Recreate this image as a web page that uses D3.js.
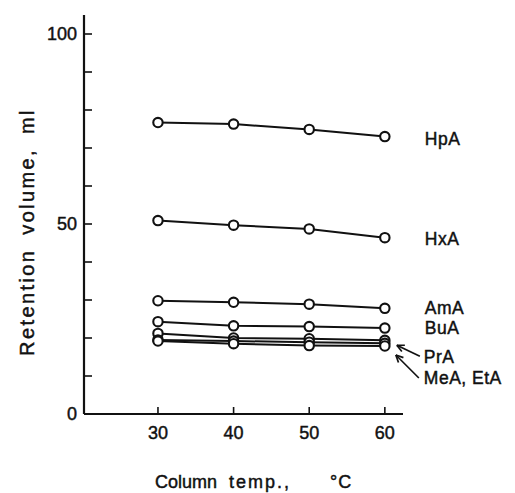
<!DOCTYPE html>
<html>
<head>
<meta charset="utf-8">
<script src="https://cdn.jsdelivr.net/npm/d3@7"></script>
<style>
  html, body { margin: 0; padding: 0; background: #fff; }
  svg { display: block; }
  text { font-family: "Liberation Sans", Arial, sans-serif; fill: #111; stroke: #111; stroke-width: 0.45px; }
</style>
</head>
<body>
<svg id="chart" width="515" height="493"></svg>
<script>
// ---- data ----
const temps = [30, 40, 50, 60];
const HpA = [76.7, 76.3, 74.9, 73.0];
const HxA = [50.9, 49.7, 48.7, 46.4];
const AmA = [29.8, 29.4, 28.9, 27.8];
const BuA = [24.3, 23.2, 23.0, 22.6];
const PrA = [21.2, 20.0, 19.8, 19.4];
const EtA = [19.5, 19.2, 18.9, 18.6];
const MeA = [19.2, 18.5, 18.0, 17.9];
const xTicks = [30, 40, 50, 60];
const yMajorTicks = [0, 50, 100];
const yMinorTicks = [10, 20, 30, 40, 60, 70, 80, 90];
const seriesNames = ["HpA", "HxA", "AmA", "BuA", "PrA", "EtA", "MeA"];
const seriesValues = [HpA, HxA, AmA, BuA, PrA, EtA, MeA];

// ---- layout ----
const svg = d3.select("#chart");
const x = d3.scaleLinear().domain([20.22, 62.4]).range([84, 403]);
const y = d3.scaleLinear().domain([0, 105]).range([414, 15]);

const ink = "#111";

// y axis
const gy = svg.append("g").attr("transform", `translate(${x.range()[0]},0)`);
gy.append("line").attr("y1", y(0)).attr("y2", y(105))
  .attr("stroke", ink).attr("stroke-width", 2.2);
gy.selectAll("line.tick").data(yMajorTicks.concat(yMinorTicks)).join("line")
  .attr("class", "tick")
  .attr("x1", 0).attr("x2", 8)
  .attr("y1", d => y(d)).attr("y2", d => y(d))
  .attr("stroke", ink).attr("stroke-width", 1.6);
gy.selectAll("text").data(yMajorTicks).join("text")
  .attr("x", -7).attr("y", d => y(d))
  .attr("dy", "0.36em")
  .attr("text-anchor", "end")
  .attr("font-size", 18)
  .text(d => d);

// x axis
const gx = svg.append("g").attr("transform", `translate(0,${y(0)})`);
gx.append("line").attr("x1", x.range()[0]).attr("x2", x.range()[1])
  .attr("stroke", ink).attr("stroke-width", 2.2);
gx.selectAll("line.tick").data(xTicks).join("line")
  .attr("class", "tick")
  .attr("x1", d => x(d)).attr("x2", d => x(d))
  .attr("y1", 0).attr("y2", -7)
  .attr("stroke", ink).attr("stroke-width", 1.6);
gx.selectAll("text").data(xTicks).join("text")
  .attr("x", d => x(d)).attr("y", 25)
  .attr("text-anchor", "middle")
  .attr("font-size", 18)
  .text(d => d);

// axis titles
svg.append("text")
  .attr("transform", `translate(34,232) rotate(-90)`)
  .attr("text-anchor", "middle")
  .attr("font-size", 20)
  .style("letter-spacing", "2.4px")
  .style("word-spacing", "6px")
  .text("Retention volume, ml");

const xt = svg.append("text").attr("y", 488).attr("font-size", 18);
xt.append("tspan").attr("x", 155).style("letter-spacing", "0px").text("Column");
xt.append("tspan").attr("x", 229).style("letter-spacing", "2px").text("temp.,");
xt.append("tspan").attr("x", 330).style("letter-spacing", "1px").text("°C");

// lines and points
const line = d3.line().x((d, i) => x(temps[i])).y(d => y(d));
seriesValues.forEach(vals => {
  svg.append("path").datum(vals)
    .attr("d", line)
    .attr("fill", "none").attr("stroke", ink).attr("stroke-width", 2);
});
seriesValues.forEach(vals => {
  svg.append("g").selectAll("circle").data(vals).join("circle")
    .attr("cx", (d, i) => x(temps[i])).attr("cy", d => y(d))
    .attr("r", 4.7)
    .attr("fill", "#fff").attr("stroke", ink).attr("stroke-width", 2.1);
});

// series labels
const labelX = x(60) + 40;
const labels = [
  { text: "HpA", v: HpA[3], dy: 8 },
  { text: "HxA", v: HxA[3], dy: 7 },
  { text: "AmA", v: AmA[3], dy: 6 },
  { text: "BuA", v: BuA[3], dy: 6 }
];
svg.selectAll("text.lab").data(labels).join("text")
  .attr("class", "lab")
  .attr("x", labelX).attr("y", d => y(d.v) + d.dy)
  .attr("font-size", 17.5)
  .style("letter-spacing", "0.5px")
  .text(d => d.text);

const prY = y(PrA[3]) + 23;
const meY = y(MeA[3]) + 38;
svg.append("text").attr("x", labelX - 1).attr("y", prY)
  .attr("font-size", 17.5).style("letter-spacing", "0.5px").text("PrA");
svg.append("text").attr("x", labelX - 1).attr("y", meY)
  .attr("font-size", 17.5).style("letter-spacing", "0.5px").text("MeA, EtA");

// arrows
function arrow(x1, y1, x2, y2) {
  svg.append("line").attr("x1", x1).attr("y1", y1).attr("x2", x2).attr("y2", y2)
    .attr("stroke", ink).attr("stroke-width", 1.7);
  const a = Math.atan2(y2 - y1, x2 - x1);
  const len = 8, spread = 0.45;
  [a + Math.PI - spread, a + Math.PI + spread].forEach(b => {
    svg.append("line").attr("x1", x2).attr("y1", y2)
      .attr("x2", x2 + len * Math.cos(b)).attr("y2", y2 + len * Math.sin(b))
      .attr("stroke", ink).attr("stroke-width", 1.7);
  });
}
arrow(labelX - 5, prY - 7, x(60) + 12, y(PrA[3]) + 5);
arrow(labelX - 6, meY - 6, x(60) + 11, y(MeA[3]) + 9);
</script>
</body>
</html>
